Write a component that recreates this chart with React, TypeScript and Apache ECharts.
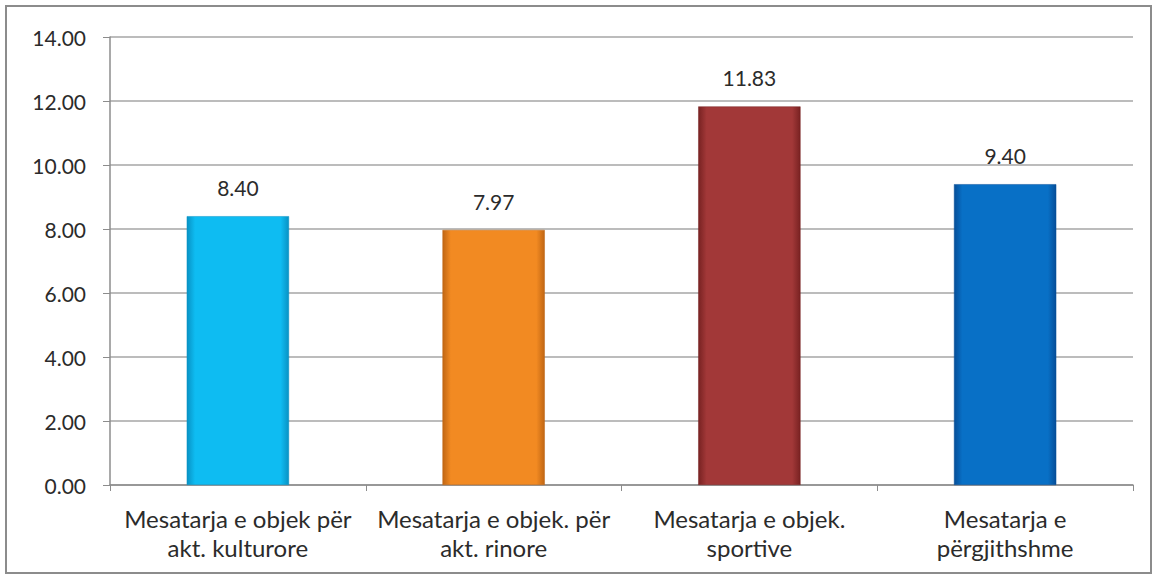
import React, { useEffect, useRef } from "react";
import * as echarts from "echarts";

const categories = [
  "Mesatarja e objek për\nakt. kulturore",
  "Mesatarja e objek. për\nakt. rinore",
  "Mesatarja e objek.\nsportive",
  "Mesatarja e\npërgjithshme",
];
const values = [8.4, 7.97, 11.83, 9.4];
const mainColors = ["#0EBCF2", "#F28A22", "#A23838", "#0870C6"];
const edgeColors = ["#0892C4", "#C06614", "#782222", "#064E98"];
const yTicks = { min: 0, max: 14, interval: 2 };

export default function App() {
  const ref = useRef<HTMLDivElement>(null);
  useEffect(() => {
    if (!ref.current) return;
    const chart = echarts.init(ref.current, null, { renderer: "svg" });
    const font = "Lato, 'Open Sans', sans-serif";
    chart.setOption({
      animation: false,
      backgroundColor: "#ffffff",
      textStyle: { fontFamily: font },
      graphic: [
        {
          type: "rect",
          shape: { x: 6, y: 6, width: 1145, height: 567 },
          style: { fill: "none", stroke: "#8c8c8c", lineWidth: 2 },
          silent: true,
        },
      ],
      grid: { left: 110, top: 37, right: 25, bottom: 94 },
      xAxis: {
        type: "category",
        data: categories,
        axisLine: { lineStyle: { color: "#8c8c8c", width: 1.5 } },
        axisTick: { show: true, alignWithLabel: false, length: 6, lineStyle: { color: "#8c8c8c" } },
        axisLabel: {
          color: "#2b2b2b",
          fontSize: 24,
          lineHeight: 29,
          margin: 19,
          fontFamily: font,
          interval: 0,
        },
      },
      yAxis: {
        type: "value",
        min: yTicks.min,
        max: yTicks.max,
        interval: yTicks.interval,
        axisLine: { show: true, lineStyle: { color: "#8c8c8c", width: 1.5 } },
        axisTick: { show: true, length: 7, lineStyle: { color: "#8c8c8c" } },
        splitLine: { lineStyle: { color: "#a6a6a6", width: 1.5 } },
        axisLabel: {
          color: "#2b2b2b",
          fontSize: 21,
          margin: 24,
          fontFamily: font,
          formatter: (v: number) => v.toFixed(2),
        },
      },
      series: [
        {
          type: "bar",
          barWidth: "40%",
          data: values.map((v, i) => ({
            value: v,
            itemStyle: {
              color: {
                type: "linear",
                x: 0,
                y: 0,
                x2: 1,
                y2: 0,
                colorStops: [
                  { offset: 0, color: edgeColors[i] },
                  { offset: 0.08, color: mainColors[i] },
                  { offset: 0.92, color: mainColors[i] },
                  { offset: 1, color: edgeColors[i] },
                ],
              },
              borderColor: edgeColors[i],
              borderWidth: 0.5,
            },
          })),
          label: {
            show: true,
            position: "top",
            distance: 18,
            color: "#2b2b2b",
            fontSize: 21,
            fontFamily: font,
            formatter: (p: any) => Number(p.value).toFixed(2),
          },
        },
      ],
    });
    return () => chart.dispose();
  }, []);
  return (
    <div
      ref={ref}
      style={{ position: "fixed", left: 0, top: 0, width: 1158, height: 579 }}
    />
  );
}
